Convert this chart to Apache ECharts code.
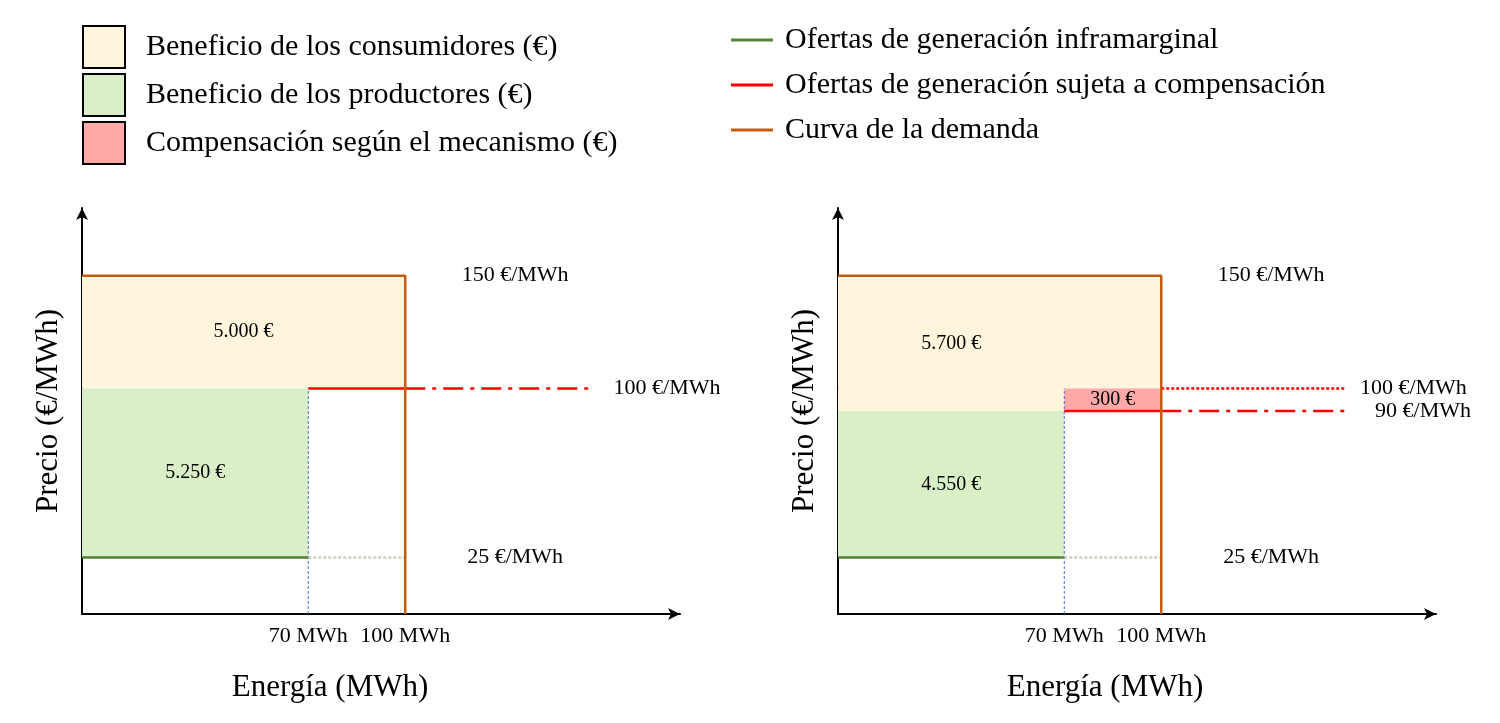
<!DOCTYPE html>
<html>
<head>
<meta charset="utf-8">
<script src="https://cdn.jsdelivr.net/npm/echarts@6/dist/echarts.min.js"></script>
<style>
  html, body { margin: 0; padding: 0; background: #fff; }
  #chart { width: 1500px; height: 723px; }
</style>
</head>
<body>
<div id="chart"></div>
<script>
// values
const energyTicks = [70, 100];          // MWh
const inframarginalQty = 70;           // MWh
const demandQty = 100;                 // MWh
const demandPrice = 150;               // €/MWh
const inframarginalPrice = 25;         // €/MWh
const compensatedOffer = [100, 100];   // €/MWh, per panel
const clearingPrice = [100, 90];       // €/MWh, per panel
const consumerLabels = ['5.000 €', '5.700 €'];
const producerLabels = ['5.250 €', '4.550 €'];
const compensationLabels = [null, '300 €'];
const priceLabels = [[150, 100, 25], [150, 100, 90, 25]];

const FONT = 'Liberation Serif';
const C_CONS = '#FFF5DD', C_PROD = '#DAEFC7', C_COMP = '#FFA8A8';
const C_DEMAND = '#C55A11', C_INFRA = '#548235', C_RED = '#FF0000';
const lineEnd = 157;

const N_CONS = 'Beneficio de los consumidores (€)';
const N_PROD = 'Beneficio de los productores (€)';
const N_COMP = 'Compensación según el mecanismo (€)';
const N_INFRA = 'Ofertas de generación inframarginal';
const N_RED = 'Ofertas de generación sujeta a compensación';
const N_DEMAND = 'Curva de la demanda';

let chart = echarts.init(document.getElementById('chart'));

const rectSeries = (name, color, idx, data) => ({
    name: name,
    type: 'custom',
    xAxisIndex: idx,
    yAxisIndex: idx,
    itemStyle: { color: color },
    encode: { x: [0, 1], y: [2, 3] },
    z: 1,
    renderItem: (params, api) => {
        const a = api.coord([api.value(0), api.value(3)]);
        const b = api.coord([api.value(1), api.value(2)]);
        return {
            type: 'rect',
            shape: { x: a[0], y: a[1], width: b[0] - a[0], height: b[1] - a[1] },
            style: { fill: color }
        };
    },
    data: data
});

const lineSeries = (name, color, idx, data, type, width, z) => ({
    name: name,
    type: 'line',
    xAxisIndex: idx,
    yAxisIndex: idx,
    symbol: 'none',
    silent: true,
    z: z || 3,
    lineStyle: { color: color, width: width || 2.5, type: type || 'solid', cap: 'butt' },
    itemStyle: { color: color },
    data: data
});

const textSeries = (idx, items, size) => ({
    type: 'custom',
    xAxisIndex: idx,
    yAxisIndex: idx,
    z: 10,
    clip: false,
    silent: true,
    encode: { x: 0, y: 1 },
    renderItem: (params, api) => {
        const p = api.coord([api.value(0), api.value(1)]);
        return {
            type: 'text',
            x: p[0],
            y: p[1],
            style: {
                text: items[params.dataIndex][2],
                fill: '#000',
                font: size + 'px "' + FONT + '"',
                align: 'center',
                verticalAlign: 'middle'
            }
        };
    },
    data: items.map(d => [d[0], d[1]])
});

let series = [];
[0, 1].forEach(i => {
    const p = clearingPrice[i];
    const c = compensatedOffer[i];
    const cons = [[0, demandQty, c, demandPrice]];
    if (p < c) cons.push([0, inframarginalQty, p, c]);
    series.push(rectSeries(N_CONS, C_CONS, i, cons));
    series.push(rectSeries(N_PROD, C_PROD, i, [[0, inframarginalQty, inframarginalPrice, p]]));
    series.push(rectSeries(N_COMP, C_COMP, i, p < c ? [[inframarginalQty, demandQty, p, c]] : []));

    series.push(lineSeries('guide', '#4472C4', i, [[inframarginalQty, 0], [inframarginalQty, c]], [3, 2], 1, 2));
    series.push(lineSeries('infra-ext', '#C9D3BC', i, [[inframarginalQty, inframarginalPrice], [demandQty, inframarginalPrice]], [3, 2], 2.5, 2));
    series.push(lineSeries(N_INFRA, C_INFRA, i, [[0, inframarginalPrice], [inframarginalQty, inframarginalPrice]]));
    series.push(lineSeries(N_RED, C_RED, i, [[inframarginalQty, p], [demandQty, p]]));
    series.push(lineSeries('red-ext', C_RED, i, [[demandQty, p], [lineEnd, p]], [20, 7, 4, 7]));
    if (p < c) {
        series.push(lineSeries('red-dot', C_RED, i, [[demandQty, c], [lineEnd, c]], [3, 2]));
    }
    series.push(lineSeries(N_DEMAND, C_DEMAND, i, [[0, demandPrice], [demandQty, demandPrice], [demandQty, 0]], 'solid', 2.5, 4));

    // area values
    const areaText = [];
    if (p < c) {
        areaText.push([inframarginalQty / 2, (demandPrice + p) / 2, consumerLabels[i]]);
        areaText.push([(inframarginalQty + demandQty) / 2, (p + c) / 2, compensationLabels[i]]);
    } else {
        areaText.push([demandQty / 2, (demandPrice + c) / 2, consumerLabels[i]]);
    }
    areaText.push([inframarginalQty / 2, (inframarginalPrice + p) / 2, producerLabels[i]]);
    series.push(textSeries(i, areaText, 20));

    // price labels on the right
    const pl = priceLabels[i].map(v => {
        let x = 134;
        if (v !== demandPrice && v !== inframarginalPrice) x = (i === 0 || v === 90) ? 181 : 178;
        return [x, v, v + ' €/MWh'];
    });
    series.push(textSeries(i, pl, 22));
});

const gridLefts = [82, 838];
const namePad = [[0, 102, 0, 0], [0, 64, 0, 0]];

let option = {
    animation: false,
    textStyle: { fontFamily: FONT },
    legend: [
        {
            data: [N_CONS, N_PROD, N_COMP],
            orient: 'vertical',
            left: 82,
            top: 25,
            padding: 0,
            itemGap: 4,
            itemWidth: 42,
            itemHeight: 42,
            icon: 'rect',
            selectedMode: false,
            itemStyle: { borderColor: '#000', borderWidth: 2 },
            textStyle: { fontSize: 30, fontFamily: FONT, color: '#000', lineHeight: 42, padding: [0, 0, 0, 16] }
        },
        {
            data: [N_INFRA, N_RED, N_DEMAND],
            orient: 'vertical',
            left: 731,
            top: 19,
            padding: 0,
            itemGap: 3,
            itemWidth: 42,
            itemHeight: 3,
            icon: 'rect',
            selectedMode: false,
            textStyle: { fontSize: 30, fontFamily: FONT, color: '#000', lineHeight: 42, padding: [0, 0, 0, 7] }
        }
    ],
    grid: gridLefts.map(l => ({ left: l, top: 208, width: 598, height: 406 })),
    xAxis: [0, 1].map(i => ({
        type: 'value',
        gridIndex: i,
        min: 0,
        max: 185,
        name: 'Energía (MWh)',
        nameLocation: 'middle',
        nameGap: 58,
        nameTextStyle: { fontSize: 31, fontFamily: FONT, color: '#000', padding: namePad[i] },
        splitLine: { show: false },
        axisTick: { show: false },
        axisLine: { show: true, symbol: ['none', 'arrow'], symbolSize: [9, 12], lineStyle: { color: '#000', width: 2 } },
        axisLabel: {
            customValues: energyTicks,
            formatter: '{value} MWh',
            fontSize: 22,
            fontFamily: FONT,
            color: '#000',
            margin: 11
        }
    })),
    yAxis: [0, 1].map(i => ({
        type: 'value',
        gridIndex: i,
        min: 0,
        max: 180,
        name: 'Precio (€/MWh)',
        nameLocation: 'middle',
        nameGap: 18,
        nameTextStyle: { fontSize: 31, fontFamily: FONT, color: '#000' },
        splitLine: { show: false },
        axisTick: { show: false },
        axisLabel: { show: false },
        axisLine: { show: true, symbol: ['none', 'arrow'], symbolSize: [9, 12], lineStyle: { color: '#000', width: 2 } }
    })),
    series: series
};

option && chart.setOption(option);
</script>
</body>
</html>
